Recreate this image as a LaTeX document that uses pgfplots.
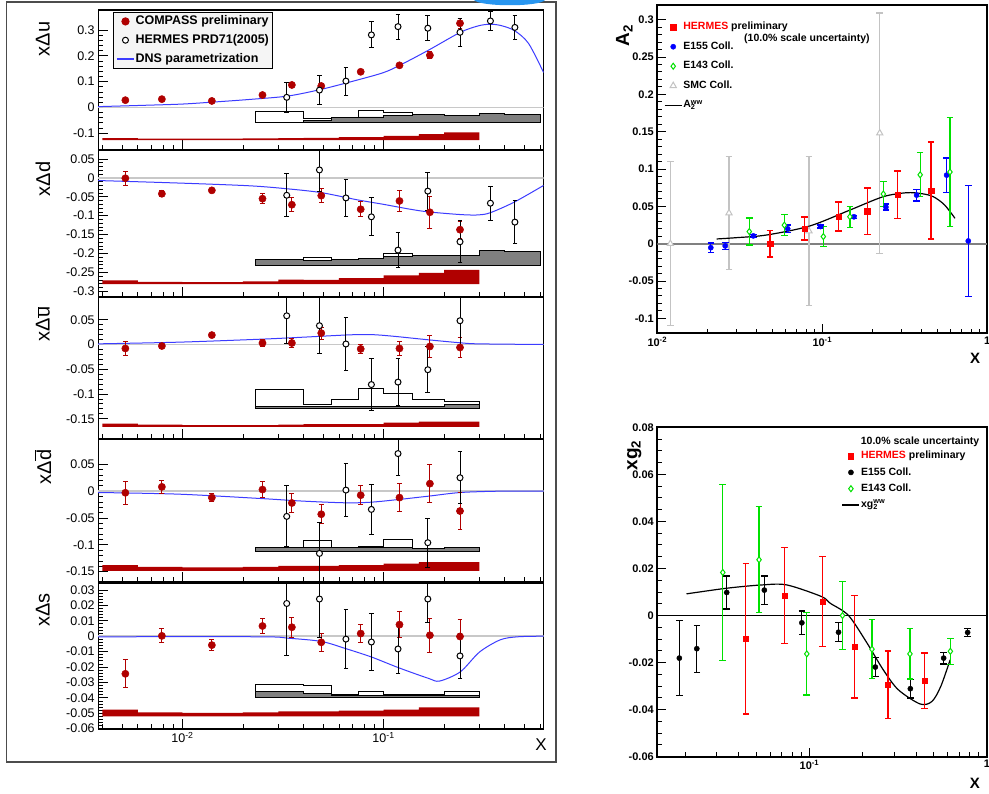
\documentclass[border=0pt]{standalone}
\usepackage{pgfplots}
\pgfplotsset{compat=1.18}
\usepackage{fontspec}
\setmainfont{Liberation Sans}
\definecolor{cred}{RGB}{176,0,0}
\definecolor{dnsblue}{RGB}{60,60,255}
\definecolor{zgray}{RGB}{200,200,200}
\definecolor{bandgray}{RGB}{128,128,128}
\definecolor{hred}{RGB}{255,0,0}
\definecolor{egreen}{RGB}{0,225,0}
\definecolor{smcgray}{RGB}{195,195,195}
\definecolor{eblue}{RGB}{0,0,255}
\definecolor{logoblue}{RGB}{40,150,240}
\pgfplotsset{
  leftpanel/.style={
    scale only axis, width=445.4pt, xmin=0.00381, xmax=0.625,
    axis line style={line width=1.1pt},
    tick align=inside, xtick pos=bottom, ytick pos=left,
    major tick length=10pt, minor tick length=5pt,
    tick style={black, line width=0.8pt},
    xtick={0.01,0.1}, xticklabels={},
    minor xtick={0.004,0.005,0.006,0.007,0.008,0.009,0.02,0.03,0.04,0.05,0.06,0.07,0.08,0.09,0.2,0.3,0.4,0.5,0.6},
    minor y tick num=4, scaled y ticks=false,
    yticklabel={\pgfmathprintnumber[fixed,precision=3,assume math mode=true]{\tick}},
    ticklabel style={font=\fontsize{12.5}{14}\selectfont},
    ylabel style={anchor=center, font=\fontsize{20}{24}\selectfont},
  },
  rightpanel/.style={
    scale only axis,
    axis line style={line width=1.8pt},
    tick align=inside, xtick pos=bottom, ytick pos=left,
    major tick length=9pt, minor tick length=4.5pt,
    tick style={black, line width=0.9pt},
    minor xtick={0.02,0.03,0.04,0.05,0.06,0.07,0.08,0.09,0.2,0.3,0.4,0.5,0.6,0.7,0.8,0.9},
    scaled y ticks=false,
    yticklabel={\pgfmathprintnumber[fixed,precision=3,assume math mode=true]{\tick}},
    ticklabel style={font=\bfseries\fontsize{11}{13}\selectfont},
    ylabel style={anchor=center, font=\bfseries\fontsize{19}{23}\selectfont},
    xlabel style={anchor=center, font=\bfseries\fontsize{15}{18}\selectfont},
    legend cell align=left,
  },
  compass/.style={forget plot, only marks, mark=*, mark size=3.6pt, color=cred,
    mark options={fill=cred, draw=cred, line width=0.5pt},
    error bars/y dir=both, error bars/y explicit,
    error bars/error bar style={line width=1pt, color=cred},
    error bars/error mark options={rotate=90, mark size=2.4pt, line width=1pt, color=cred}},
  hermes/.style={forget plot, only marks, mark=*, mark size=3pt, color=black,
    mark options={fill=white, draw=black, line width=1pt},
    error bars/y dir=both, error bars/y explicit,
    error bars/error bar style={line width=1pt, color=black},
    error bars/error mark options={rotate=90, mark size=2.4pt, line width=1pt, color=black}},
  dnscurve/.style={forget plot, dnsblue, line width=1pt, smooth},
  redband/.style={forget plot, const plot mark left, fill=cred, draw=none},
  outband/.style={forget plot, const plot mark left, fill=white, draw=black, line width=1pt},
  grayband/.style={forget plot, const plot mark left, fill=bandgray, draw=black, line width=0.9pt},
  zline/.style={forget plot, zgray, line width=1.6pt},
  rsq/.style={forget plot, only marks, mark=square*, mark size=2.7pt, color=hred,
    error bars/y dir=both, error bars/y explicit,
    error bars/error bar style={line width=1.3pt, color=hred},
    error bars/error mark options={rotate=90, mark size=3.3pt, line width=1.3pt, color=hred}},
  rci/.style={forget plot, only marks, mark=*, mark size=2.6pt, color=#1,
    error bars/y dir=both, error bars/y explicit,
    error bars/error bar style={line width=1.3pt, color=#1},
    error bars/error mark options={rotate=90, mark size=3.3pt, line width=1.3pt, color=#1}},
  rdi/.style={forget plot, only marks, mark=diamond*, mark size=3pt, color=egreen,
    mark options={fill=white, draw=egreen, line width=1pt},
    error bars/y dir=both, error bars/y explicit,
    error bars/error bar style={line width=1.3pt, color=egreen},
    error bars/error mark options={rotate=90, mark size=3.3pt, line width=1.3pt, color=egreen}},
  rtr/.style={forget plot, only marks, mark=triangle*, mark size=3.6pt, color=smcgray,
    mark options={fill=white, draw=smcgray, line width=1pt},
    error bars/y dir=both, error bars/y explicit,
    error bars/error bar style={line width=1.3pt, color=smcgray},
    error bars/error mark options={rotate=90, mark size=3.3pt, line width=1.3pt, color=smcgray}},
}
\begin{document}
\begin{tikzpicture}
\path[use as bounding box] (0pt,0pt) rectangle (989pt,794pt);
\fill[white] (0pt,0pt) rectangle (989pt,794pt);
\draw[line width=1.5pt, black!70] (6.4pt,32pt) rectangle (556pt,792pt);
\fill[logoblue] (474pt,794pt) -- (545pt,794pt) .. controls (540pt,787pt) and (480pt,787pt) .. (474pt,794pt) -- cycle;

% ---------------- Panel 1: x Delta u
\begin{axis}[xmode=log, leftpanel, anchor=south west, at={(98.2pt,644pt)}, height=140pt,
  ymin=-0.165, ymax=0.3775, ytick={-0.1,0,0.1,0.2,0.3},
  ylabel={xΔu}, ylabel style={at={(axis description cs:-0.124,0.793)}},
  legend style={at={(axis description cs:0.034,0.988)}, anchor=north west, draw=black, line width=1pt,
    fill=gray!8, font=\bfseries\fontsize{12.5}{14}\selectfont, inner sep=2.5pt, row sep=5.3pt,
    nodes={inner sep=1pt, text height=9pt, text depth=2.5pt}},
  legend cell align=left]
\addlegendimage{only marks, mark=*, mark size=3.6pt, cred}
\addlegendentry{COMPASS preliminary}
\addlegendimage{only marks, mark=*, mark size=3pt, mark options={fill=white, draw=black, line width=1pt}}
\addlegendentry{HERMES PRD71(2005)}
\addlegendimage{legend image code/.code={\draw[draw=dnsblue, line width=1.2pt] (0pt,0pt) -- (17pt,0pt);}}
\addlegendentry{DNS parametrization}
\addplot[zline] coordinates {(0.00381,0) (0.625,0)};
\addplot[redband] coordinates {(0.004,-0.127) (0.004,-0.119) (0.006,-0.121) (0.01,-0.121) (0.02,-0.120) (0.03,-0.119) (0.04,-0.118) (0.06,-0.115) (0.1,-0.110) (0.15,-0.104) (0.2,-0.097) (0.3,-0.097) (0.3,-0.127)} -- cycle;
\addplot[outband] coordinates {(0.023,-0.060) (0.023,-0.017) (0.04,-0.043) (0.055,-0.038) (0.075,-0.013) (0.1,-0.018) (0.14,-0.027) (0.2,-0.033) (0.3,-0.023) (0.4,-0.026) (0.6,-0.026) (0.6,-0.060)} -- cycle;
\addplot[grayband] coordinates {(0.023,-0.060) (0.023,-0.057) (0.04,-0.050) (0.055,-0.040) (0.075,-0.037) (0.1,-0.033) (0.14,-0.029) (0.2,-0.033) (0.3,-0.023) (0.4,-0.026) (0.6,-0.026) (0.6,-0.060)} -- cycle;
\addplot[dnscurve] coordinates {(0.00381,0.003) (0.00635,0.008) (0.01,0.013) (0.0144,0.021) (0.0217,0.031) (0.0334,0.044) (0.049,0.070) (0.074,0.106) (0.1,0.135) (0.121,0.164) (0.1675,0.222) (0.241,0.291) (0.296,0.316) (0.336,0.322) (0.38,0.318) (0.447,0.298) (0.526,0.248) (0.625,0.135)};
\addplot[compass] table[x index=0, y index=1, y error index=2] {
0.0052 0.028 0.006
0.0079 0.032 0.005
0.014 0.025 0.005
0.025 0.048 0.006
0.035 0.087 0.008
0.049 0.083 0.008
0.077 0.138 0.008
0.12 0.163 0.009
0.17 0.202 0.013
0.24 0.326 0.020
};
\addplot[hermes] table[x index=0, y index=1, y error index=2] {
0.033 0.039 0.058
0.048 0.067 0.057
0.065 0.102 0.054
0.087 0.281 0.050
0.118 0.313 0.048
0.166 0.307 0.048
0.24 0.291 0.055
0.34 0.335 0.037
0.45 0.310 0.046
};
\end{axis}

% ---------------- Panel 2: x Delta d
\begin{axis}[xmode=log, leftpanel, anchor=south west, at={(98.2pt,497pt)}, height=147pt,
  ymin=-0.315, ymax=0.0738, ytick={-0.3,-0.25,-0.2,-0.15,-0.1,-0.05,0,0.05},
  ylabel={xΔd}, ylabel style={at={(axis description cs:-0.124,0.803)}}]
\addplot[zline] coordinates {(0.00381,0) (0.625,0)};
\addplot[redband] coordinates {(0.004,-0.281) (0.004,-0.271) (0.006,-0.275) (0.01,-0.276) (0.02,-0.274) (0.03,-0.269) (0.04,-0.270) (0.06,-0.265) (0.1,-0.258) (0.15,-0.251) (0.2,-0.243) (0.3,-0.243) (0.3,-0.281)} -- cycle;
\addplot[outband] coordinates {(0.023,-0.231) (0.023,-0.217) (0.04,-0.210) (0.055,-0.217) (0.075,-0.2135) (0.1,-0.1995) (0.14,-0.206) (0.2,-0.206) (0.3,-0.191) (0.4,-0.194) (0.6,-0.194) (0.6,-0.231)} -- cycle;
\addplot[grayband] coordinates {(0.023,-0.231) (0.023,-0.217) (0.04,-0.218) (0.055,-0.217) (0.075,-0.2135) (0.1,-0.207) (0.14,-0.206) (0.2,-0.206) (0.3,-0.191) (0.4,-0.194) (0.6,-0.194) (0.6,-0.231)} -- cycle;
\addplot[dnscurve] coordinates {(0.00381,-0.007) (0.01,-0.014) (0.0217,-0.021) (0.0334,-0.029) (0.049,-0.039) (0.074,-0.058) (0.1,-0.070) (0.136,-0.083) (0.1675,-0.090) (0.241,-0.097) (0.296,-0.098) (0.34,-0.092) (0.447,-0.064) (0.625,-0.020)};
\addplot[compass] table[x index=0, y index=1, y error index=2] {
0.0052 -0.001 0.019
0.0079 -0.042 0.008
0.014 -0.033 0.005
0.025 -0.055 0.014
0.035 -0.071 0.018
0.049 -0.047 0.018
0.077 -0.083 0.020
0.12 -0.061 0.028
0.17 -0.091 0.043
0.24 -0.137 0.022
};
\addplot[hermes] table[x index=0, y index=1, y error index=2] {
0.033 -0.046 0.057
0.048 0.021 0.058
0.065 -0.053 0.050
0.087 -0.103 0.050
0.118 -0.191 0.046
0.166 -0.035 0.050
0.24 -0.169 0.055
0.34 -0.067 0.045
0.45 -0.117 0.057
};
\end{axis}

% ---------------- Panel 3: x Delta ubar
\begin{axis}[xmode=log, leftpanel, anchor=south west, at={(98.2pt,355pt)}, height=142pt,
  ymin=-0.191, ymax=0.096, ytick={-0.15,-0.1,-0.05,0,0.05},
  ylabel={xΔ$\overline{\mbox{u}}$}, ylabel style={at={(axis description cs:-0.124,0.81)}}]
\addplot[zline] coordinates {(0.00381,0) (0.625,0)};
\addplot[redband] coordinates {(0.004,-0.1665) (0.004,-0.160) (0.006,-0.162) (0.01,-0.163) (0.02,-0.163) (0.03,-0.162) (0.04,-0.161) (0.06,-0.161) (0.1,-0.158) (0.15,-0.156) (0.2,-0.156) (0.3,-0.156) (0.3,-0.1665)} -- cycle;
\addplot[outband] coordinates {(0.023,-0.129) (0.023,-0.091) (0.04,-0.121) (0.055,-0.112) (0.075,-0.0886) (0.1,-0.099) (0.14,-0.111) (0.2,-0.115) (0.3,-0.115) (0.3,-0.129)} -- cycle;
\addplot[grayband] coordinates {(0.023,-0.129) (0.023,-0.126) (0.04,-0.126) (0.055,-0.126) (0.075,-0.126) (0.1,-0.126) (0.14,-0.125) (0.2,-0.122) (0.3,-0.122) (0.3,-0.129)} -- cycle;
\addplot[dnscurve] coordinates {(0.00381,0.0013) (0.0096,0.0047) (0.0245,0.0107) (0.040,0.0148) (0.068,0.0195) (0.087,0.020) (0.111,0.0168) (0.1675,0.0094) (0.241,0.0034) (0.296,0.0013) (0.625,0)};
\addplot[compass] table[x index=0, y index=1, y error index=2] {
0.0052 -0.008 0.014
0.0079 -0.003 0.005
0.014 0.019 0.004
0.025 0.003 0.007
0.035 0.003 0.010
0.049 0.023 0.012
0.077 -0.009 0.009
0.12 -0.008 0.015
0.17 -0.004 0.022
0.24 -0.006 0.020
};
\addplot[hermes] table[x index=0, y index=1, y error index=2] {
0.033 0.058 0.057
0.048 0.038 0.057
0.065 0.001 0.053
0.087 -0.081 0.052
0.118 -0.076 0.047
0.166 -0.051 0.046
0.24 0.048 0.051
};
\end{axis}

% ---------------- Panel 4: x Delta dbar
\begin{axis}[xmode=log, leftpanel, anchor=south west, at={(98.2pt,212pt)}, height=143pt,
  ymin=-0.1692, ymax=0.0972, ytick={-0.15,-0.1,-0.05,0,0.05},
  ylabel={xΔ$\overline{\mbox{d}}$}, ylabel style={at={(axis description cs:-0.124,0.804)}}]
\addplot[zline] coordinates {(0.00381,0) (0.625,0)};
\addplot[redband] coordinates {(0.004,-0.1485) (0.004,-0.138) (0.006,-0.141) (0.01,-0.142) (0.02,-0.141) (0.03,-0.139) (0.04,-0.139) (0.06,-0.138) (0.1,-0.135) (0.15,-0.132) (0.2,-0.132) (0.3,-0.132) (0.3,-0.1485)} -- cycle;
\addplot[outband] coordinates {(0.023,-0.113) (0.023,-0.105) (0.04,-0.0925) (0.055,-0.105) (0.075,-0.1025) (0.1,-0.090) (0.14,-0.107) (0.2,-0.105) (0.3,-0.105) (0.3,-0.113)} -- cycle;
\addplot[grayband] coordinates {(0.023,-0.113) (0.023,-0.105) (0.04,-0.105) (0.055,-0.105) (0.075,-0.105) (0.1,-0.105) (0.14,-0.107) (0.2,-0.105) (0.3,-0.105) (0.3,-0.113)} -- cycle;
\addplot[dnscurve] coordinates {(0.00381,-0.0025) (0.0096,-0.0056) (0.0245,-0.0137) (0.040,-0.0186) (0.065,-0.0217) (0.087,-0.0205) (0.119,-0.0155) (0.1675,-0.0093) (0.241,-0.0025) (0.38,0) (0.625,0)};
\addplot[compass] table[x index=0, y index=1, y error index=2] {
0.0052 -0.003 0.021
0.0079 0.008 0.012
0.014 -0.012 0.007
0.025 0.003 0.015
0.035 -0.022 0.018
0.049 -0.043 0.018
0.077 -0.0075 0.018
0.12 -0.012 0.026
0.17 0.014 0.036
0.24 -0.037 0.034
};
\addplot[hermes] table[x index=0, y index=1, y error index=2] {
0.033 -0.047 0.057
0.048 -0.116 0.057
0.065 0.002 0.049
0.087 -0.034 0.047
0.118 0.070 0.040
0.166 -0.096 0.046
0.24 0.025 0.048
};
\end{axis}

% ---------------- Panel 5: x Delta s
\begin{axis}[xmode=log, leftpanel, anchor=south west, at={(98.2pt,65pt)}, height=146pt,
  ymin=-0.0602, ymax=0.0345, ytick={-0.06,-0.05,-0.04,-0.03,-0.02,-0.01,0,0.01,0.02,0.03},
  xticklabels={10\textsuperscript{-2},10\textsuperscript{-1}},
  ylabel={xΔs}, ylabel style={at={(axis description cs:-0.124,0.815)}},
  xlabel={X}, xlabel style={at={(axis description cs:0.994,-0.11)}, anchor=center, font=\fontsize{17}{20}\selectfont}]
\addplot[zline] coordinates {(0.00381,0) (0.625,0)};
\addplot[redband] coordinates {(0.004,-0.052) (0.004,-0.0477) (0.006,-0.0494) (0.01,-0.0498) (0.02,-0.0494) (0.03,-0.0487) (0.04,-0.0487) (0.06,-0.0483) (0.1,-0.0477) (0.15,-0.0462) (0.2,-0.0462) (0.3,-0.0462) (0.3,-0.052)} -- cycle;
\addplot[outband] coordinates {(0.023,-0.0397) (0.023,-0.0314) (0.04,-0.0323) (0.055,-0.038) (0.075,-0.0357) (0.1,-0.038) (0.14,-0.038) (0.2,-0.0357) (0.3,-0.0357) (0.3,-0.0397)} -- cycle;
\addplot[grayband] coordinates {(0.023,-0.0397) (0.023,-0.0361) (0.04,-0.0372) (0.055,-0.0385) (0.075,-0.0385) (0.1,-0.0385) (0.14,-0.0385) (0.2,-0.0385) (0.3,-0.0385) (0.3,-0.0397)} -- cycle;
\addplot[dnscurve] coordinates {(0.00381,-0.0004) (0.0245,-0.0004) (0.0334,-0.0013) (0.049,-0.0034) (0.065,-0.0081) (0.087,-0.0135) (0.119,-0.0205) (0.1675,-0.0274) (0.19,-0.0291) (0.241,-0.0231) (0.30,-0.0103) (0.38,-0.0024) (0.464,-0.0004) (0.625,0)};
\addplot[compass] table[x index=0, y index=1, y error index=2] {
0.0052 -0.0244 0.009
0.0079 0.0002 0.0045
0.014 -0.0058 0.0037
0.025 0.0066 0.005
0.035 0.0058 0.0066
0.049 -0.004 0.006
0.077 0.0017 0.006
0.12 0.0075 0.0082
0.17 0.0006 0.011
0.24 -0.0002 0.011
};
\addplot[hermes] table[x index=0, y index=1, y error index=2] {
0.033 0.0212 0.034
0.048 0.0241 0.025
0.065 -0.0019 0.019
0.087 -0.0038 0.0187
0.118 -0.0083 0.0157
0.166 0.0241 0.015
0.24 -0.0128 0.0146
};
\end{axis}

% ---------------- Right top: A2
\begin{axis}[xmode=log, rightpanel, anchor=south west, at={(657.3pt,460.7pt)}, width=330pt, height=328.6pt,
  xmin=0.01, xmax=1, ymin=-0.12, ymax=0.32,
  xtick={0.01,0.1,1}, xticklabels={10\textsuperscript{-2},10\textsuperscript{-1},1},
  ytick={-0.1,-0.05,0,0.05,0.1,0.15,0.2,0.25,0.3}, minor y tick num=4,
  ylabel={A\textsubscript{2}}, ylabel style={at={(axis description cs:-0.1,0.905)}},
  xlabel={X}, xlabel style={at={(axis description cs:0.963,-0.075)}},
  legend style={at={(axis description cs:0.02,0.951)}, anchor=north west, draw=none, fill=none,
    font=\bfseries\fontsize{10.5}{12}\selectfont, inner sep=0pt, row sep=7pt,
    nodes={inner sep=1pt, text height=8pt, text depth=2.5pt}}]
\addlegendimage{only marks, mark=square*, mark size=2.7pt, hred}
\addlegendentry{\textcolor{hred}{HERMES} preliminary}
\addlegendimage{only marks, mark=*, mark size=2.6pt, eblue}
\addlegendentry{E155 Coll.}
\addlegendimage{only marks, mark=diamond*, mark size=3pt, mark options={fill=white, draw=egreen, line width=1pt}}
\addlegendentry{E143 Coll.}
\addlegendimage{only marks, mark=triangle*, mark size=3.6pt, mark options={fill=white, draw=smcgray, line width=1pt}}
\addlegendentry{SMC Coll.}
\addlegendimage{black, line width=1.2pt}
\addlegendentry{A\rlap{\textsubscript{2}}\textsuperscript{ww}}
\node[anchor=west, font=\bfseries\fontsize{10.5}{12}\selectfont] at (axis description cs:0.2527,0.8965) {(10.0\% scale uncertainty)};
\addplot[forget plot, black!50, line width=1.8pt] coordinates {(0.01,0) (1,0)};
\addplot[rtr] table[x index=0, y index=1, y error index=2] {
0.012 0.0 0.11
0.0272 0.041 0.076
0.083 0.017 0.0995
0.223 0.148 0.161
};
\addplot[forget plot, black, line width=1.2pt, smooth] coordinates {(0.0229,0.0063) (0.030,0.0080) (0.046,0.0116) (0.084,0.0237) (0.147,0.045) (0.234,0.0629) (0.324,0.0682) (0.40,0.067) (0.471,0.0629) (0.55,0.052) (0.637,0.034)};
\addplot[rci=eblue] table[x index=0, y index=1, y error index=2] {
0.0211 -0.0054 0.0065
0.0258 -0.003 0.005
0.0382 0.0104 0.002
0.0617 0.020 0.005
0.0977 0.023 0.002
0.1555 0.036 0.002
0.243 0.049 0.004
0.373 0.065 0.008
0.567 0.0918 0.023
0.767 0.0036 0.074
};
\addplot[rdi] table[x index=0, y index=1, y error index=2] {
0.0361 0.0162 0.018
0.0589 0.0248 0.014
0.1015 0.0095 0.0135
0.147 0.036 0.014
0.2344 0.0665 0.017
0.392 0.0922 0.0295
0.594 0.096 0.073
};
\addplot[rsq] table[x index=0, y index=1, y error index=2] {
0.0482 0.0 0.018
0.078 0.0203 0.0155
0.1256 0.0365 0.0195
0.1875 0.0437 0.031
0.286 0.0653 0.032
0.4565 0.0712 0.065
};
\end{axis}

% ---------------- Right bottom: xg2
\begin{axis}[xmode=log, rightpanel, anchor=south west, at={(657.3pt,37.3pt)}, width=329.7pt, height=329.4pt,
  xmin=0.0139, xmax=1, ymin=-0.06, ymax=0.08,
  xtick={0.1,1}, xticklabels={10\textsuperscript{-1},1},
  ytick={-0.06,-0.04,-0.02,0,0.02,0.04,0.06,0.08}, minor y tick num=3,
  ylabel={xg\textsubscript{2}}, ylabel style={at={(axis description cs:-0.07,0.915)}},
  xlabel={X}, xlabel style={at={(axis description cs:0.963,-0.08)}},
  legend style={at={(axis description cs:0.559,0.932)}, anchor=north west, draw=none, fill=none,
    font=\bfseries\fontsize{10.5}{12}\selectfont, inner sep=0pt, row sep=3.8pt,
    nodes={inner sep=1pt, text height=8pt, text depth=2.5pt}}]
\addlegendimage{only marks, mark=square*, mark size=2.7pt, hred}
\addlegendentry{\textcolor{hred}{HERMES} preliminary}
\addlegendimage{only marks, mark=*, mark size=2.6pt, black}
\addlegendentry{E155 Coll.}
\addlegendimage{only marks, mark=diamond*, mark size=3pt, mark options={fill=white, draw=egreen, line width=1pt}}
\addlegendentry{E143 Coll.}
\addlegendimage{black, line width=1.2pt}
\addlegendentry{xg\rlap{\textsubscript{2}}\textsuperscript{ww}}
\node[anchor=west, font=\bfseries\fontsize{10.5}{12}\selectfont] at (axis description cs:0.6066,0.956) {10.0\% scale uncertainty};
\addplot[forget plot, black, line width=0.8pt] coordinates {(0.0139,0) (1,0)};
\addplot[forget plot, black, line width=1.2pt, smooth] coordinates {(0.0203,0.0092) (0.0342,0.0116) (0.0541,0.0130) (0.0745,0.0130) (0.1166,0.0081) (0.131,0.0052) (0.166,0.0) (0.211,-0.0117) (0.26,-0.023) (0.316,-0.0315) (0.42,-0.0376) (0.49,-0.0365) (0.55,-0.030) (0.62,-0.0188)};
\addplot[rci=black] table[x index=0, y index=1, y error index=2] {
0.0185 -0.0181 0.016
0.0232 -0.0141 0.010
0.0342 0.0098 0.007
0.0557 0.0108 0.006
0.0906 -0.0031 0.005
0.1458 -0.0071 0.004
0.235 -0.0219 0.004
0.370 -0.0311 0.004
0.570 -0.0181 0.0025
0.778 -0.0072 0.0018
};
\addplot[rdi] table[x index=0, y index=1, y error index=2] {
0.0325 0.0183 0.0375
0.052 0.0237 0.0225
0.0966 -0.0163 0.0175
0.1535 0.0 0.0145
0.225 -0.0143 0.0125
0.368 -0.0163 0.0107
0.622 -0.0152 0.0055
};
\addplot[rsq] table[x index=0, y index=1, y error index=2] {
0.0438 -0.0098 0.032
0.0726 0.0084 0.0204
0.1184 0.0059 0.0191
0.1795 -0.0132 0.0218
0.2767 -0.0294 0.0143
0.4455 -0.0277 0.0118
};
\end{axis}
\end{tikzpicture}
\end{document}
